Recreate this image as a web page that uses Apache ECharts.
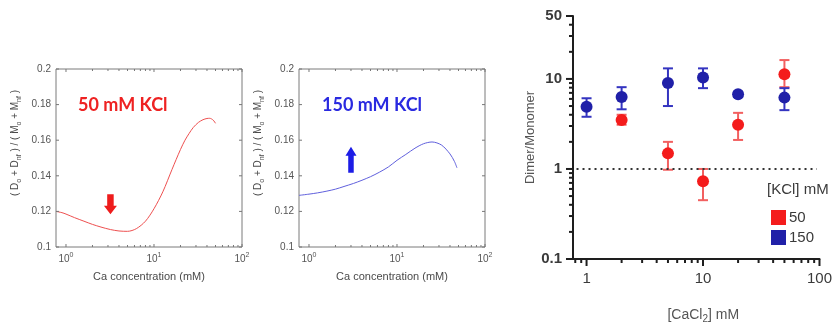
<!DOCTYPE html>
<html>
<head>
<meta charset="utf-8">
<script src="https://cdn.jsdelivr.net/npm/echarts@6/dist/echarts.min.js"></script>
<style>
  html, body { margin: 0; padding: 0; background: #fff; }
  #chart { width: 835px; height: 329px; }
</style>
</head>
<body>
<div id="chart"></div>
<script>
// Simulated (D_o + D_nf)/(M_o + M_nf) against Ca concentration, 50 mM KCl
const simCa50 = [0.77, 0.9, 1, 1.25, 1.6, 2, 2.5, 3.2, 4, 5, 6.3, 8, 10, 12.6, 16, 20, 22.5, 25, 28, 32, 36, 40, 43, 47, 50];
const simFrac50 = [0.1200, 0.1193, 0.1185, 0.1165, 0.1145, 0.1127, 0.1112, 0.1098, 0.1090, 0.1088, 0.1103,
                   0.1145, 0.1215, 0.1310, 0.1435, 0.1548, 0.1600, 0.1637, 0.1672, 0.1700, 0.1715, 0.1722,
                   0.1723, 0.1713, 0.1695];
// Same quantity, 150 mM KCl
const simCa150 = [0.77, 1, 1.25, 1.6, 2, 2.5, 3.2, 4, 5, 6.3, 8, 10, 12.6, 16, 20, 25, 32, 40, 45, 48];
const simFrac150 = [0.1290, 0.1297, 0.1304, 0.1314, 0.1325, 0.1340, 0.1357, 0.1375, 0.1395, 0.1420, 0.1450,
                    0.1487, 0.1520, 0.1555, 0.1580, 0.1590, 0.1573, 0.1523, 0.1480, 0.1445];

// Measured dimer/monomer ratio against [CaCl2] (mean with error range)
const caCl2Kcl50 = [2, 5, 10, 20, 50];
const ratioKcl50 = [3.5, 1.49, 0.73, 3.1, 11.3];
const upperKcl50 = [4.0, 2.0, 1.0, 4.2, 16.2];
const lowerKcl50 = [3.1, 0.98, 0.45, 2.1, 8.1];
const caCl2Kcl150 = [1, 2, 5, 10, 20, 50];
const ratioKcl150 = [4.9, 6.3, 9.0, 10.4, 6.75, 6.2];
const upperKcl150 = [6.1, 8.1, 13.1, 13.1, 7.2, 7.9];
const lowerKcl150 = [3.8, 4.6, 5.0, 7.9, 6.3, 4.5];

// Tick values
const simXMajor = [1, 10, 100];
const simXMinor = [2, 3, 4, 5, 6, 7, 8, 9, 20, 30, 40, 50, 60, 70, 80, 90];
const simYTicks = [0.1, 0.12, 0.14, 0.16, 0.18, 0.2];
const ratioXMajor = [1, 10, 100];
const ratioXMinor = [0.8, 0.9, 2, 3, 4, 5, 6, 7, 8, 9, 20, 30, 40, 50, 60, 70, 80, 90];
const ratioYMajor = [0.1, 1, 10, 50];
const ratioYMinor = [0.2, 0.3, 0.4, 0.5, 0.6, 0.7, 0.8, 0.9, 2, 3, 4, 5, 6, 7, 8, 9, 20, 30, 40];
const legendNames = ['50', '150'];

const SIM_X = [0.77, 100], SIM_Y = [0.1, 0.2];
const RAT_X = [0.765, 100], RAT_Y = [0.1, 50];

const zip = (a, b) => a.map((v, i) => [v, b[i]]);
const isPow10 = v => Math.abs(Math.log10(v) - Math.round(Math.log10(v))) < 1e-6;

// Tick marks drawn through the grid's own axes.
// side: 0 bottom, 1 top, 2 left, 3 right; dir: +1 inward, -1 outward
function tickSeries(gi, xr, yr, spec, st) {
  const data = [];
  const push = (vals, side, major) => vals.forEach(v => {
    if (side < 2) data.push([v, side === 0 ? yr[0] : yr[1], side, major]);
    else data.push([side === 2 ? xr[0] : xr[1], v, side, major]);
  });
  spec.forEach(s => push(s.vals, s.side, s.major));
  return {
    type: 'custom', xAxisIndex: gi, yAxisIndex: gi, silent: true, z: 6,
    encode: { x: 0, y: 1 }, data,
    renderItem(params, api) {
      const p = api.coord([api.value(0), api.value(1)]);
      const side = api.value(2), major = api.value(3);
      const len = (major ? st.major : st.minor) * st.dir;
      let dx = 0, dy = 0;
      if (side === 0) dy = -len; else if (side === 1) dy = len;
      else if (side === 2) dx = len; else dx = -len;
      return { type: 'line', shape: { x1: p[0], y1: p[1], x2: p[0] + dx, y2: p[1] + dy },
               style: { stroke: st.color, lineWidth: st.width } };
    }
  };
}

function errorBars(gi, xs, lo, hi, color) {
  return {
    type: 'custom', xAxisIndex: gi, yAxisIndex: gi, silent: true, z: 3,
    encode: { x: 0, y: [1, 2] },
    data: xs.map((x, i) => [x, lo[i], hi[i]]),
    renderItem(params, api) {
      const x = api.value(0);
      const a = api.coord([x, api.value(1)]), b = api.coord([x, api.value(2)]);
      const w = 5, st = { stroke: color, lineWidth: 2 };
      return { type: 'group', children: [
        { type: 'line', shape: { x1: a[0], y1: a[1], x2: b[0], y2: b[1] }, style: st },
        { type: 'line', shape: { x1: a[0] - w, y1: a[1], x2: a[0] + w, y2: a[1] }, style: st },
        { type: 'line', shape: { x1: b[0] - w, y1: b[1], x2: b[0] + w, y2: b[1] }, style: st }
      ] };
    }
  };
}

const FONT = 'Liberation Sans, Arial, sans-serif';
const simName = '{n|( D}{s|o}{n| + D}{s|nf}{n| ) / ( M}{s|o}{n| + M}{s|nf}{n| )}';
const simNameRich = {
  n: { fontSize: 10, lineHeight: 15, color: '#4a4a4a', fontFamily: FONT, verticalAlign: 'middle' },
  s: { fontSize: 7, lineHeight: 7, color: '#4a4a4a', fontFamily: FONT, verticalAlign: 'bottom' }
};
const supRich = {
  n: { fontSize: 10, lineHeight: 14, color: '#555', fontFamily: FONT, verticalAlign: 'middle' },
  p: { fontSize: 7, lineHeight: 7, color: '#555', fontFamily: FONT, verticalAlign: 'top' }
};

function simXAxis(gi) {
  return {
    type: 'log', logBase: 10, gridIndex: gi, min: SIM_X[0], max: SIM_X[1],
    axisLine: { show: false }, axisTick: { show: false }, splitLine: { show: false },
    axisLabel: {
      margin: 5, formatter: v => isPow10(v) ? '{n|10}{p|' + Math.round(Math.log10(v)) + '}' : '',
      rich: supRich, showMinLabel: true, showMaxLabel: true
    },
    name: 'Ca concentration (mM)', nameLocation: 'middle', nameGap: 24,
    nameTextStyle: { fontSize: 11, color: '#4a4a4a', fontFamily: FONT }
  };
}
function simYAxis(gi) {
  return {
    type: 'value', gridIndex: gi, min: SIM_Y[0], max: SIM_Y[1], interval: 0.02,
    axisLine: { show: false }, axisTick: { show: false }, splitLine: { show: false },
    axisLabel: { margin: 5, fontSize: 10, color: '#555', fontFamily: FONT,
                 formatter: v => String(Math.round(v * 100) / 100) },
    name: simName, nameLocation: 'middle', nameGap: 33, nameRotate: 90,
    nameTextStyle: { rich: simNameRich, padding: [0, 0, 0, 30] }
  };
}
const simTickStyle = { major: 3, minor: 2, dir: 1, color: '#777', width: 1 };
function simTicks(gi) {
  return tickSeries(gi, SIM_X, SIM_Y, [
    { vals: simXMajor, side: 0, major: 1 }, { vals: simXMinor, side: 0, major: 0 },
    { vals: simXMajor, side: 1, major: 1 }, { vals: simXMinor, side: 1, major: 0 },
    { vals: simYTicks, side: 2, major: 1 }, { vals: simYTicks, side: 3, major: 1 }
  ], simTickStyle);
}

const RED = '#f41c1c', BLUE = '#2020a8';

const option = {
  animation: false,
  backgroundColor: '#fff',
  grid: [
    { left: 56, top: 69, width: 186, height: 178, show: true, borderColor: '#7a7a7a', borderWidth: 1 },
    { left: 299, top: 69, width: 186, height: 178, show: true, borderColor: '#7a7a7a', borderWidth: 1 },
    { left: 573, top: 16, width: 255, height: 250 }
  ],
  xAxis: [
    simXAxis(0), simXAxis(1),
    {
      type: 'log', logBase: 10, gridIndex: 2, min: RAT_X[0], max: RAT_X[1],
      axisLine: { lineStyle: { color: '#1e1e1e', width: 2 } },
      axisTick: { show: false }, splitLine: { show: false },
      axisLabel: { margin: 12, fontSize: 15, color: '#3a3a3a', fontFamily: FONT,
                   formatter: v => ratioXMajor.some(t => Math.abs(t - v) < 1e-6) ? String(v) : '',
                   showMinLabel: true, showMaxLabel: true },
      name: '{n|[CaCl}{s|2}{n|] mM}', nameLocation: 'middle', nameGap: 47,
      nameTextStyle: { padding: [0, 0, 0, 14], rich: {
        n: { fontSize: 14, lineHeight: 18, color: '#555', fontFamily: FONT, verticalAlign: 'middle' },
        s: { fontSize: 10, lineHeight: 10, color: '#555', fontFamily: FONT, verticalAlign: 'bottom' } } }
    }
  ],
  yAxis: [
    simYAxis(0), simYAxis(1),
    {
      type: 'log', logBase: 10, gridIndex: 2, min: RAT_Y[0], max: RAT_Y[1],
      axisLine: { lineStyle: { color: '#1e1e1e', width: 2 } },
      axisTick: { show: false }, splitLine: { show: false },
      axisLabel: { margin: 11, fontSize: 15, fontWeight: 'bold', color: '#3a3a3a', fontFamily: FONT,
                   formatter: v => ratioYMajor.some(t => Math.abs(t - v) < 1e-6) ? String(v) : '',
                   showMinLabel: true, showMaxLabel: true },
      name: 'Dimer/Monomer', nameLocation: 'middle', nameGap: 30,
      nameTextStyle: { fontSize: 13, color: '#555', fontFamily: FONT }
    }
  ],
  legend: {
    data: legendNames, orient: 'vertical', left: 766, top: 205, itemGap: 5,
    itemWidth: 15, itemHeight: 15, icon: 'rect', selectedMode: false,
    textStyle: { fontSize: 15, color: '#3a3a3a', fontFamily: FONT, padding: [0, 0, 0, -2] }
  },
  graphic: [
    { type: 'text', left: 78, top: 96, style: { text: '50 mM KCl', fill: '#ee2222',
      font: 'bold 18px Lato, "Open Sans", sans-serif' } },
    { type: 'text', left: 322, top: 96, style: { text: '150 mM KCl', fill: '#2a2ae0',
      font: 'bold 18px Lato, "Open Sans", sans-serif' } },
    { type: 'text', left: 767, top: 182, style: { text: '[KCl] mM', fill: '#3a3a3a',
      font: '15px "Liberation Sans", Arial, sans-serif' } }
  ],
  series: [
    {
      type: 'line', xAxisIndex: 0, yAxisIndex: 0, data: zip(simCa50, simFrac50),
      smooth: 0.3, showSymbol: false, silent: true,
      lineStyle: { color: '#ee5050', width: 1 },
      markPoint: {
        silent: true, label: { show: false },
        data: [{ coord: [3.2, 0.124], symbol: 'path://M3,0 L9,0 L9,11 L12,11 L6,19 L0,11 L3,11 Z',
                 symbolSize: [13, 20], itemStyle: { color: '#ee1c1c' } }]
      }
    },
    {
      type: 'line', xAxisIndex: 1, yAxisIndex: 1, data: zip(simCa150, simFrac150),
      smooth: 0.3, showSymbol: false, silent: true,
      lineStyle: { color: '#6060dd', width: 1 },
      markPoint: {
        silent: true, label: { show: false },
        data: [{ coord: [3.0, 0.149], symbol: 'path://M6,0 L12,9 L9,9 L9,26 L3,26 L3,9 L0,9 Z',
                 symbolSize: [11, 26], itemStyle: { color: '#1c1ce6' } }]
      }
    },
    simTicks(0), simTicks(1),
    tickSeries(2, RAT_X, RAT_Y, [
      { vals: ratioXMajor, side: 0, major: 1 }, { vals: ratioXMinor, side: 0, major: 0 },
      { vals: ratioYMajor, side: 2, major: 1 }, { vals: ratioYMinor, side: 2, major: 0 }
    ], { major: 7, minor: 4, dir: -1, color: '#1e1e1e', width: 2 }),
    errorBars(2, caCl2Kcl50, lowerKcl50, upperKcl50, '#f26060'),
    {
      name: '50', type: 'scatter', xAxisIndex: 2, yAxisIndex: 2, z: 4,
      data: zip(caCl2Kcl50, ratioKcl50), symbolSize: 12,
      itemStyle: { color: RED, opacity: 1 },
      markLine: {
        silent: true, symbol: 'none', label: { show: false },
        lineStyle: { type: [2, 4], color: '#333', width: 2 },
        data: [[{ coord: [0.82, 1] }, { coord: [95, 1] }]]
      }
    },
    errorBars(2, caCl2Kcl150, lowerKcl150, upperKcl150, '#3434c0'),
    {
      name: '150', type: 'scatter', xAxisIndex: 2, yAxisIndex: 2, z: 4,
      data: zip(caCl2Kcl150, ratioKcl150), symbolSize: 12,
      itemStyle: { color: BLUE, opacity: 1 }
    }
  ]
};

const chart = echarts.init(document.getElementById('chart'), null, { renderer: 'canvas' });
chart.setOption(option);
</script>
</body>
</html>
